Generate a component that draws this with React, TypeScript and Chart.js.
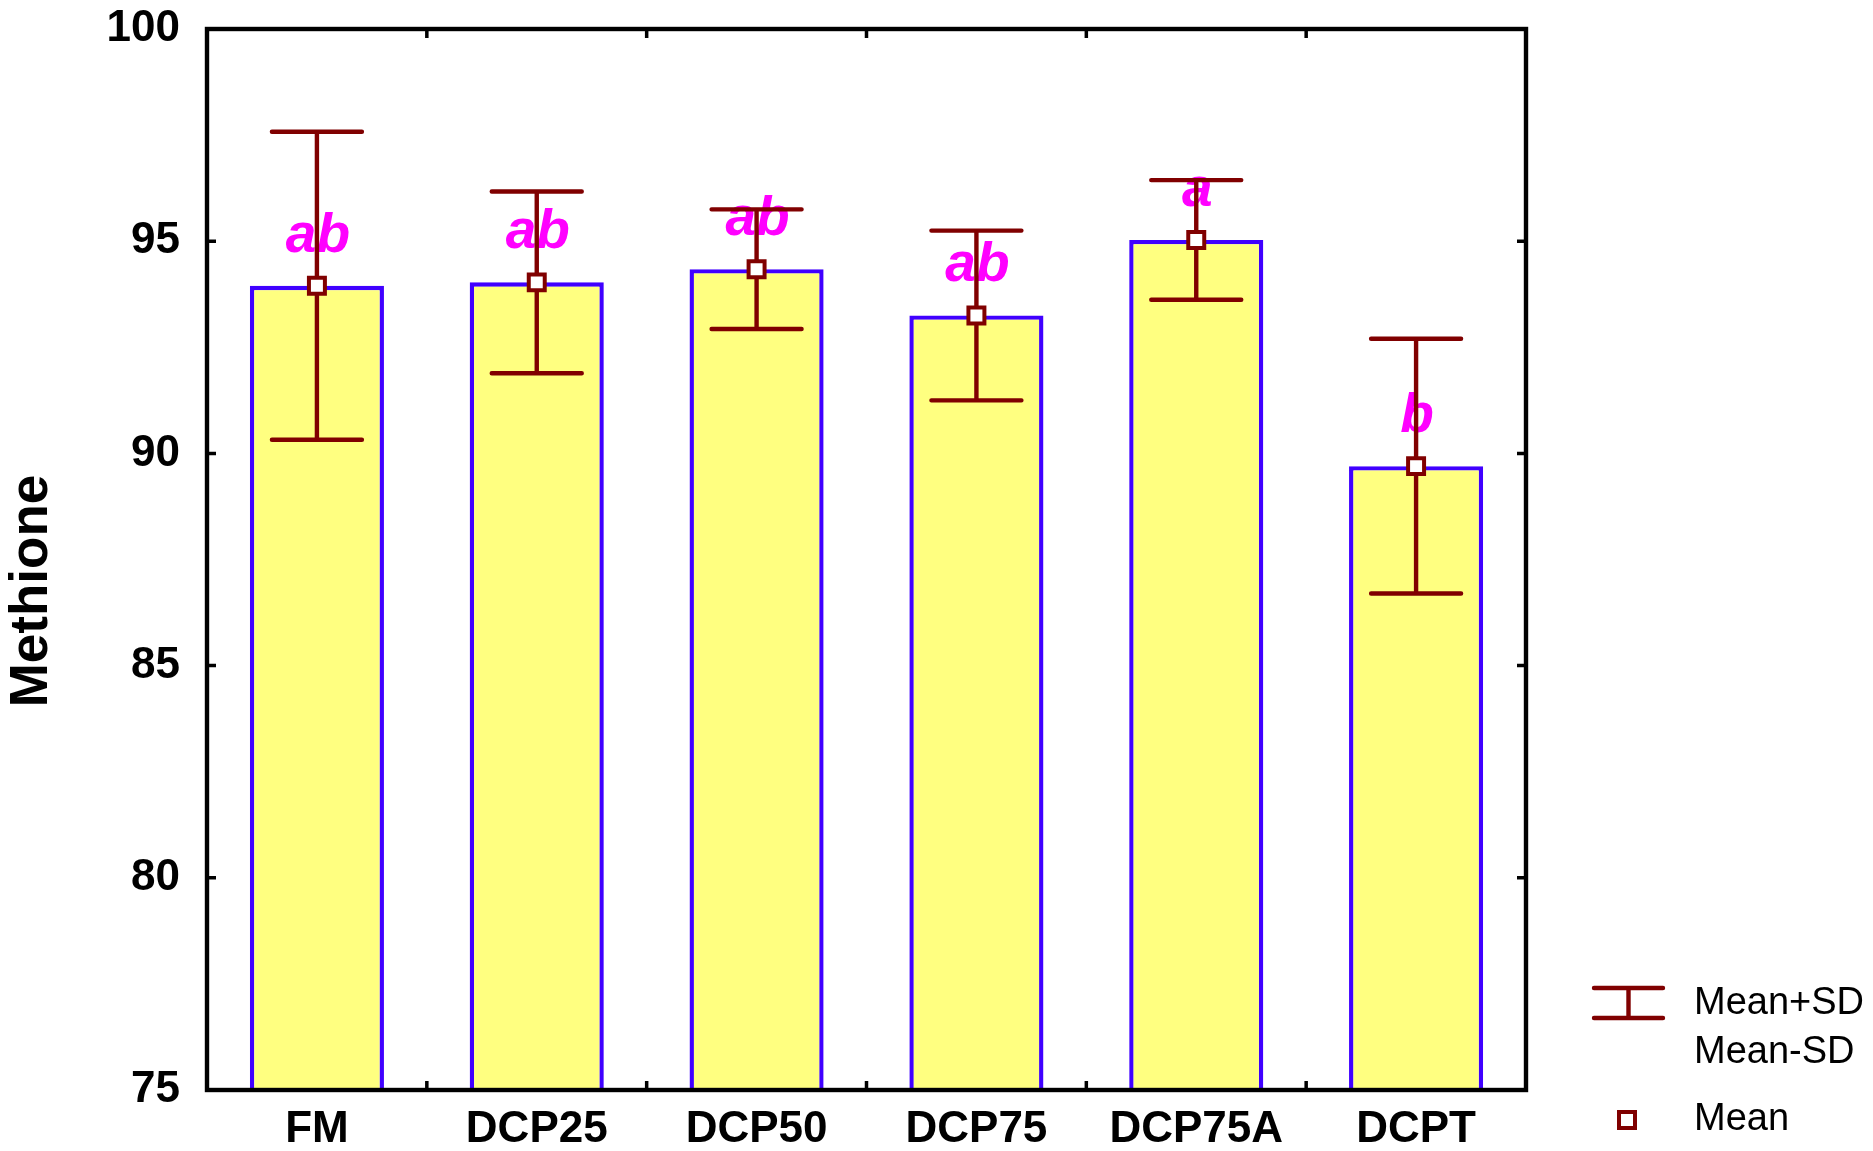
import { useEffect, useRef } from "react";
import { Chart, registerables } from "chart.js";

Chart.register(...registerables);

const categories = ["FM", "DCP25", "DCP50", "DCP75", "DCP75A", "DCPT"];
const means = [93.95, 94.03, 94.34, 93.25, 95.03, 89.7];
const sds = [3.63, 2.14, 1.41, 2.0, 1.41, 3.0];
const letters = ["ab", "ab", "ab", "ab", "a", "b"];
const yMin = 75;
const yMax = 100;
const yStep = 5;
const yTitle = "Methione";
const legendLabels = ["Mean+SD", "Mean-SD", "Mean"];

const FONT = '"Liberation Sans", Arial, Helvetica, sans-serif';
const DARK_RED = "#800000";

const overlay = {
  id: "overlay",
  afterDatasetDraw(chart: any, args: any) {
    if (args.index !== 0) return;
    const ctx = chart.ctx as CanvasRenderingContext2D;
    const y = chart.scales.y;
    const meta = chart.getDatasetMeta(0);
    ctx.save();
    ctx.font = `italic bold 55px ${FONT}`;
    ctx.fillStyle = "#FF00FF";
    ctx.textAlign = "center";
    ctx.textBaseline = "alphabetic";
    meta.data.forEach((bar: any, i: number) => {
      const py = y.getPixelForValue(means[i]);
      ctx.fillText(letters[i], bar.x + 1, py - 34);
    });
    ctx.strokeStyle = DARK_RED;
    ctx.lineWidth = 4.4;
    ctx.lineCap = "round";
    meta.data.forEach((bar: any, i: number) => {
      const top = y.getPixelForValue(means[i] + sds[i]);
      const bot = y.getPixelForValue(means[i] - sds[i]);
      const hw = 45;
      ctx.beginPath();
      ctx.moveTo(bar.x, top);
      ctx.lineTo(bar.x, bot);
      ctx.moveTo(bar.x - hw, top);
      ctx.lineTo(bar.x + hw, top);
      ctx.moveTo(bar.x - hw, bot);
      ctx.lineTo(bar.x + hw, bot);
      ctx.stroke();
    });
    ctx.restore();
  },
  afterDraw(chart: any) {
    const ctx = chart.ctx as CanvasRenderingContext2D;
    const { left, right, top, bottom } = chart.chartArea;
    const y = chart.scales.y;
    const x = chart.scales.x;
    ctx.save();
    // frame
    ctx.strokeStyle = "#000";
    ctx.lineWidth = 4.4;
    ctx.lineCap = "butt";
    ctx.strokeRect(left, top, right - left, bottom - top);
    // inward ticks
    ctx.lineWidth = 3.5;
    ctx.beginPath();
    y.ticks.forEach((t: any) => {
      const py = y.getPixelForValue(t.value);
      ctx.moveTo(left, py);
      ctx.lineTo(left + 9, py);
      ctx.moveTo(right, py);
      ctx.lineTo(right - 9, py);
    });
    for (let i = 1; i < categories.length; i++) {
      const px = (x.getPixelForValue(i - 1) + x.getPixelForValue(i)) / 2;
      ctx.moveTo(px, bottom);
      ctx.lineTo(px, bottom - 9);
      ctx.moveTo(px, top);
      ctx.lineTo(px, top + 9);
    }
    ctx.stroke();

    // y title
    ctx.save();
    ctx.translate(32, 591);
    ctx.rotate(-Math.PI / 2);
    ctx.font = `bold 53px ${FONT}`;
    ctx.fillStyle = "#000";
    ctx.textAlign = "center";
    ctx.textBaseline = "middle";
    ctx.fillText(yTitle, 0, 0);
    ctx.restore();

    // legend
    const lx = right + 68;
    const lw = 69;
    ctx.strokeStyle = DARK_RED;
    ctx.lineWidth = 4.4;
    ctx.lineCap = "round";
    ctx.beginPath();
    ctx.moveTo(lx, bottom - 102);
    ctx.lineTo(lx + lw, bottom - 102);
    ctx.moveTo(lx, bottom - 72);
    ctx.lineTo(lx + lw, bottom - 72);
    ctx.moveTo(lx + lw / 2, bottom - 102);
    ctx.lineTo(lx + lw / 2, bottom - 72);
    ctx.stroke();

    ctx.lineCap = "butt";
    ctx.lineWidth = 4;
    ctx.fillStyle = "#fff";
    ctx.fillRect(lx + 25, bottom + 22, 16, 16);
    ctx.strokeRect(lx + 25, bottom + 22, 16, 16);

    ctx.font = `38px ${FONT}`;
    ctx.fillStyle = "#000";
    ctx.textAlign = "left";
    ctx.textBaseline = "alphabetic";
    ctx.fillText(legendLabels[0], right + 168, bottom - 76);
    ctx.fillText(legendLabels[1], right + 168, bottom - 27);
    ctx.fillText(legendLabels[2], right + 168, bottom + 40);
    ctx.restore();
  },
};

export default function App() {
  const ref = useRef<HTMLCanvasElement | null>(null);

  useEffect(() => {
    document.body.style.margin = "0";
    document.body.style.overflow = "hidden";
    const canvas = ref.current;
    if (!canvas) return;
    const chart = new Chart(canvas, {
      type: "bar",
      data: {
        labels: categories,
        datasets: [
          {
            type: "bar",
            label: "Mean",
            data: means,
            base: yMin,
            backgroundColor: "#FFFF80",
            borderColor: "#4000FF",
            borderWidth: 4.4,
            barPercentage: 0.61,
            categoryPercentage: 1,
            order: 2,
          } as any,
          {
            type: "line",
            label: "MeanPoint",
            data: means,
            showLine: false,
            pointStyle: "rect",
            pointRadius: 11.3,
            pointHoverRadius: 11.3,
            pointBackgroundColor: "#ffffff",
            pointBorderColor: DARK_RED,
            pointBorderWidth: 4,
            order: 1,
          } as any,
        ],
      },
      options: {
        animation: false,
        responsive: false,
        devicePixelRatio: 1,
        layout: { padding: { top: 29, right: 347, bottom: 0, left: 0 } },
        plugins: {
          legend: { display: false },
          tooltip: { enabled: false },
        },
        events: [],
        scales: {
          x: {
            type: "category",
            offset: true,
            grid: { display: false, drawTicks: false },
            border: { display: false },
            ticks: {
              color: "#000",
              padding: 13,
              font: { family: FONT, size: 44, weight: "bold" },
            },
            afterFit(s: any) {
              s.height = 61;
              s.paddingLeft = 0;
              s.paddingRight = 0;
              s.paddingTop = 0;
              s.paddingBottom = 0;
            },
          },
          y: {
            type: "linear",
            min: yMin,
            max: yMax,
            grid: { display: false, drawTicks: false },
            border: { display: false },
            ticks: {
              stepSize: yStep,
              color: "#000",
              padding: 27,
              font: { family: FONT, size: 44, weight: "bold" },
            },
            afterFit(s: any) {
              s.width = 207;
              s.paddingTop = 0;
              s.paddingBottom = 0;
              s.paddingLeft = 0;
              s.paddingRight = 0;
            },
          },
        },
      } as any,
      plugins: [overlay],
    });
    return () => chart.destroy();
  }, []);

  return (
    <div style={{ width: 1873, height: 1151, position: "relative", background: "#fff" }}>
      <canvas ref={ref} width={1873} height={1151} style={{ display: "block" }} />
    </div>
  );
}
